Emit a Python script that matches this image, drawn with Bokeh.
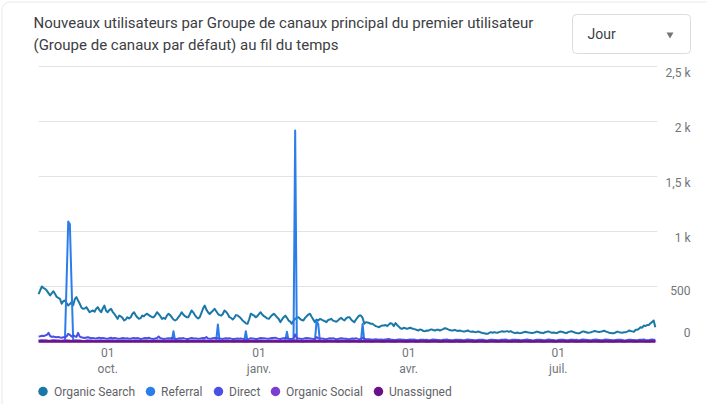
from datetime import datetime, timedelta
from bokeh.plotting import figure
from bokeh.models import ColumnDataSource, Range1d
from bokeh.core.properties import value
from bokeh.embed import file_html
from bokeh.resources import INLINE

# ---------------- data ----------------
start_day = datetime(2023, 8, 20)

organic_search = [
    430, 468, 500, 486, 479, 462, 440,
    418, 440, 457, 432, 405, 396, 388,
    343, 366, 373, 350, 327, 340, 357,
    330, 385, 403, 372, 343, 310, 297,
    300, 312, 290, 266, 275, 282, 270,
    298, 312, 285, 266, 300, 327, 280,
    266, 285, 297, 270, 252, 230, 206,
    236, 228, 215, 191, 200, 221, 210,
    221, 250, 266, 240, 220, 206, 212,
    236, 228, 245, 252, 240, 230, 221,
    221, 240, 266, 250, 230, 206, 215,
    206, 235, 252, 240, 220, 200, 191,
    200, 221, 240, 266, 245, 230, 221,
    221, 250, 282, 265, 240, 221, 210,
    221, 260, 300, 327, 290, 266, 250,
    266, 280, 297, 275, 252, 240, 235,
    250, 282, 270, 250, 221, 215, 200,
    215, 240, 236, 225, 210, 191, 180,
    165, 161, 200, 252, 245, 236, 220,
    230, 250, 266, 245, 230, 221, 210,
    206, 225, 240, 252, 238, 220, 205,
    176, 200, 221, 235, 215, 190, 180,
    161, 190, 206, 215, 221, 205, 195,
    191, 215, 230, 245, 252, 225, 200,
    176, 200, 191, 205, 200, 191, 185,
    176, 195, 200, 206, 190, 185, 180,
    191, 205, 215, 200, 191, 210, 221,
    221, 200, 185, 176, 200, 220, 236,
    236, 215, 161, 176, 172, 168, 161,
    161, 150, 140, 135, 130, 140, 145,
    145, 150, 140, 155, 167, 160, 140,
    167, 150, 135, 120, 115, 125, 120,
    115, 120, 125, 118, 115, 110, 105,
    100, 110, 105, 95, 94, 100, 98,
    106, 110, 104, 100, 106, 108, 100,
    106, 112, 121, 118, 110, 104, 100,
    100, 106, 100, 96, 100, 95, 92,
    91, 95, 100, 92, 88, 91, 86,
    85, 90, 88, 82, 78, 75, 70,
    70, 78, 85, 80, 85, 82, 80,
    85, 90, 94, 88, 92, 94, 88,
    94, 85, 80, 76, 82, 78, 76,
    80, 85, 88, 85, 82, 80, 78,
    79, 84, 90, 86, 80, 79, 76,
    85, 88, 92, 85, 80, 82, 80,
    76, 84, 90, 88, 84, 80, 76,
    85, 90, 94, 88, 82, 78, 76,
    76, 85, 92, 88, 84, 80, 82,
    85, 90, 96, 92, 88, 86, 90,
    94, 98, 90, 85, 80, 78, 76,
    76, 84, 90, 85, 82, 80, 85,
    85, 90, 100, 95, 92, 88, 106,
    106, 115, 130, 125, 145, 140, 150,
    150, 165, 176, 191, 130,
]

referral = [
    6, 8, 9, 7, 8, 6, 5,
    5, 7, 8, 9, 7, 6, 4,
    5, 6, 8, 545, 1090, 1065, 530,
    10, 8, 9, 7, 6, 5, 4,
    4, 6, 7, 8, 6, 5, 4,
    3, 6, 7, 6, 8, 6, 4,
    4, 7, 8, 6, 7, 5, 3,
    4, 6, 7, 8, 6, 5, 4,
    3, 6, 8, 7, 6, 5, 4,
    4, 7, 6, 8, 7, 5, 3,
    4, 6, 8, 7, 6, 6, 4,
    3, 6, 7, 8, 6, 94, 5,
    4, 7, 8, 6, 7, 5, 4,
    3, 6, 7, 8, 6, 5, 4,
    4, 7, 8, 7, 6, 5, 3,
    4, 6, 7, 8, 155, 6, 4,
    3, 6, 8, 7, 6, 5, 4,
    4, 6, 7, 6, 5, 4, 3,
    94, 3, 5, 7, 6, 5, 4,
    3, 6, 8, 7, 6, 5, 4,
    4, 7, 8, 6, 7, 5, 3,
    4, 6, 7, 8, 88, 5, 4,
    3, 12, 1918, 15, 6, 5, 4,
    3, 6, 8, 7, 6, 5, 4,
    4, 185, 160, 8, 6, 5, 3,
    4, 6, 7, 8, 6, 5, 4,
    3, 7, 8, 6, 7, 5, 4,
    4, 6, 7, 8, 6, 5, 3,
    4, 160, 7, 6, 5, 4, 3,
    3, 5, 6, 5, 4, 4, 3,
    3, 5, 6, 5, 5, 4, 2,
    3, 4, 6, 5, 4, 4, 2,
    2, 4, 5, 5, 4, 3, 2,
    2, 4, 5, 4, 5, 3, 2,
    2, 4, 5, 5, 4, 3, 2,
    2, 3, 5, 4, 4, 3, 2,
    2, 4, 5, 4, 3, 3, 2,
    2, 4, 5, 5, 4, 3, 2,
    2, 3, 4, 5, 4, 3, 2,
    2, 4, 5, 4, 4, 3, 2,
    2, 4, 5, 5, 4, 3, 2,
    2, 3, 5, 4, 4, 3, 2,
    2, 4, 5, 4, 3, 3, 2,
    2, 4, 5, 5, 4, 3, 2,
    2, 3, 4, 5, 4, 3, 2,
    2, 4, 5, 4, 4, 3, 2,
    2, 4, 5, 5, 4, 3, 2,
    2, 3, 5, 4, 4, 3, 2,
    2, 4, 5, 4, 3, 3, 2,
    2, 4, 5, 5, 4, 3, 2,
    2, 3, 4, 5, 4, 3, 2,
    2, 4, 5, 4, 4, 3, 2,
    2, 4, 5, 5, 4, 3, 2,
    2, 3, 5, 4, 3,
]

direct = [
    45, 48, 52, 50, 55, 60, 79,
    50, 42, 45, 40, 38, 42, 36,
    35, 38, 40, 45, 70, 60, 45,
    55, 48, 42, 79, 45, 38, 35,
    32, 36, 38, 34, 30, 32, 28,
    28, 32, 35, 30, 33, 30, 26,
    25, 30, 34, 28, 32, 30, 25,
    24, 28, 32, 30, 27, 29, 24,
    25, 30, 33, 28, 31, 27, 23,
    24, 29, 32, 30, 34, 28, 24,
    23, 28, 31, 45, 30, 27, 22,
    24, 28, 30, 27, 32, 28, 23,
    22, 27, 30, 28, 31, 26, 22,
    23, 28, 33, 30, 28, 27, 24,
    24, 29, 32, 30, 40, 28, 25,
    25, 30, 33, 31, 29, 27, 24,
    23, 28, 30, 27, 29, 26, 22,
    22, 26, 28, 25, 27, 24, 20,
    18, 20, 24, 30, 28, 26, 22,
    23, 28, 32, 30, 29, 27, 24,
    24, 30, 33, 31, 35, 28, 25,
    23, 27, 30, 32, 29, 26, 22,
    22, 28, 64, 30, 28, 26, 23,
    24, 29, 32, 30, 28, 26, 23,
    22, 40, 30, 28, 27, 25, 22,
    21, 26, 29, 27, 30, 25, 21,
    22, 27, 30, 28, 26, 25, 21,
    21, 25, 28, 26, 29, 24, 21,
    22, 35, 24, 22, 21, 20, 18,
    16, 18, 20, 19, 17, 18, 15,
    15, 18, 20, 22, 19, 17, 14,
    14, 17, 19, 18, 16, 17, 13,
    13, 16, 18, 17, 19, 15, 12,
    12, 15, 17, 16, 14, 15, 12,
    12, 16, 18, 17, 15, 14, 11,
    12, 15, 17, 19, 16, 14, 12,
    11, 15, 17, 16, 14, 15, 11,
    12, 16, 18, 17, 15, 14, 12,
    11, 14, 16, 15, 17, 13, 10,
    10, 14, 16, 15, 13, 14, 11,
    11, 15, 17, 16, 18, 14, 12,
    12, 15, 17, 16, 14, 15, 11,
    11, 14, 16, 18, 15, 13, 11,
    10, 14, 16, 15, 17, 14, 11,
    11, 15, 18, 16, 14, 13, 10,
    10, 14, 16, 17, 15, 13, 11,
    11, 15, 17, 16, 14, 15, 12,
    12, 16, 18, 17, 15, 14, 11,
    11, 15, 17, 19, 16, 14, 12,
    12, 16, 18, 17, 15, 14, 11,
    11, 14, 16, 15, 17, 13, 10,
    10, 14, 16, 15, 14, 13, 11,
    11, 15, 17, 16, 18, 14, 12,
    12, 16, 18, 17, 14,
]

organic_social = [
    8, 10, 12, 9, 11, 10, 7,
    7, 9, 11, 10, 8, 9, 6,
    6, 9, 10, 12, 9, 8, 6,
    7, 9, 10, 8, 9, 7, 5,
    5, 8, 9, 7, 8, 6, 5,
    5, 7, 9, 8, 7, 6, 4,
    5, 7, 8, 9, 7, 6, 4,
    4, 7, 8, 7, 6, 7, 4,
    5, 6, 8, 7, 8, 6, 4,
    4, 7, 9, 7, 6, 6, 4,
    4, 6, 8, 7, 7, 5, 4,
    5, 7, 8, 6, 7, 6, 4,
    4, 6, 7, 8, 6, 5, 3,
    4, 7, 8, 7, 6, 6, 4,
    5, 7, 9, 8, 7, 6, 4,
    4, 6, 8, 7, 6, 5, 4,
    4, 7, 8, 6, 7, 5, 3,
    3, 5, 6, 5, 4, 4, 3,
    3, 4, 5, 6, 5, 4, 3,
    4, 6, 8, 7, 6, 5, 4,
    4, 7, 8, 7, 8, 6, 4,
    4, 6, 7, 8, 6, 5, 4,
    4, 6, 12, 7, 6, 5, 3,
    4, 6, 8, 7, 6, 5, 4,
    3, 8, 7, 6, 7, 5, 3,
    4, 6, 7, 6, 5, 5, 3,
    3, 5, 7, 6, 5, 6, 3,
    3, 5, 6, 7, 5, 4, 3,
    3, 6, 5, 4, 5, 4, 3,
    3, 4, 5, 4, 4, 3, 2,
    2, 4, 5, 4, 3, 3, 2,
    3, 4, 5, 4, 4, 3, 2,
    2, 3, 4, 5, 4, 3, 2,
    2, 4, 5, 4, 3, 3, 2,
    2, 4, 4, 5, 4, 3, 2,
    3, 4, 5, 4, 4, 3, 2,
    2, 3, 5, 4, 3, 3, 2,
    2, 4, 5, 4, 4, 3, 2,
    2, 3, 4, 4, 3, 3, 2,
    2, 4, 5, 4, 4, 3, 2,
    3, 4, 5, 5, 4, 3, 2,
    2, 3, 4, 4, 3, 3, 2,
    2, 4, 5, 4, 4, 3, 2,
    2, 3, 5, 4, 3, 3, 2,
    2, 4, 4, 5, 4, 3, 2,
    3, 4, 5, 4, 4, 3, 2,
    2, 3, 4, 4, 3, 3, 2,
    2, 4, 5, 4, 4, 3, 2,
    2, 4, 5, 5, 4, 3, 2,
    2, 3, 4, 4, 3, 3, 2,
    2, 4, 5, 4, 4, 3, 2,
    3, 4, 5, 4, 4, 3, 2,
    2, 4, 5, 5, 4, 3, 2,
    3, 4, 5, 4, 3,
]

unassigned = [
    1, 1, 2, 1, 1, 1, 0,
    0, 1, 1, 2, 1, 1, 0,
    0, 1, 1, 1, 2, 1, 0,
    1, 1, 1, 1, 1, 0, 0,
    0, 1, 1, 1, 1, 1, 0,
    0, 1, 1, 1, 1, 0, 0,
    0, 1, 1, 1, 1, 1, 0,
    0, 1, 1, 1, 1, 0, 0,
    0, 1, 1, 1, 1, 1, 0,
    0, 1, 1, 1, 1, 0, 0,
    0, 1, 1, 1, 1, 1, 0,
    0, 1, 1, 1, 1, 0, 0,
    0, 1, 1, 1, 1, 1, 0,
    0, 1, 1, 1, 1, 0, 0,
    0, 1, 1, 1, 1, 1, 0,
    0, 1, 1, 1, 1, 0, 0,
    0, 1, 1, 1, 1, 1, 0,
    0, 0, 1, 1, 0, 0, 0,
    0, 0, 1, 1, 1, 0, 0,
    0, 1, 1, 1, 1, 1, 0,
    0, 1, 1, 1, 1, 0, 0,
    0, 1, 1, 1, 1, 1, 0,
    0, 1, 1, 1, 1, 0, 0,
    0, 1, 1, 1, 1, 1, 0,
    0, 1, 1, 1, 1, 0, 0,
    0, 1, 1, 1, 1, 1, 0,
    0, 1, 1, 1, 1, 0, 0,
    0, 1, 1, 1, 1, 1, 0,
    0, 1, 1, 1, 1, 0, 0,
    0, 1, 1, 1, 1, 1, 0,
    0, 1, 1, 1, 1, 0, 0,
    0, 1, 1, 1, 1, 1, 0,
    0, 1, 1, 1, 1, 0, 0,
    0, 1, 1, 1, 1, 1, 0,
    0, 1, 1, 1, 1, 0, 0,
    0, 1, 1, 1, 1, 1, 0,
    0, 1, 1, 1, 1, 0, 0,
    0, 1, 1, 1, 1, 1, 0,
    0, 1, 1, 1, 1, 0, 0,
    0, 1, 1, 1, 1, 1, 0,
    0, 1, 1, 1, 1, 0, 0,
    0, 1, 1, 1, 1, 1, 0,
    0, 1, 1, 1, 1, 0, 0,
    0, 1, 1, 1, 1, 1, 0,
    0, 1, 1, 1, 1, 0, 0,
    0, 1, 1, 1, 1, 1, 0,
    0, 1, 1, 1, 1, 0, 0,
    0, 1, 1, 1, 1, 1, 0,
    0, 1, 1, 1, 1, 0, 0,
    0, 1, 1, 1, 1, 1, 0,
    0, 1, 1, 1, 1, 0, 0,
    0, 1, 1, 1, 1, 1, 0,
    0, 1, 1, 1, 1, 0, 0,
    0, 1, 1, 1, 1,
]

series_names = ["Organic Search", "Referral", "Direct", "Organic Social", "Unassigned"]
series_colors = ["#1a78a8", "#2b7de9", "#4a50e2", "#7b3fd0", "#6a1189"]

tick_dates = [datetime(2023, 10, 1), datetime(2024, 1, 1), datetime(2024, 4, 1), datetime(2024, 7, 1)]
tick_labels = ["01\noct.", "01\njanv.", "01\navr.", "01\njuil."]

y_ticks = [500, 1000, 1500, 2000, 2500]
y_tick_labels = ["500", "1 k", "1,5 k", "2 k", "2,5 k"]
zero_tick = [0]
zero_label = ["0"]

title_lines = ["Nouveaux utilisateurs par Groupe de canaux principal du premier utilisateur",
               "(Groupe de canaux par défaut) au fil du temps"]
period_label = "Jour"

# ---------------- layout (page pixels) ----------------
W, H = 707, 404
PAGE_L, PAGE_T = 0, 0
PAGE_R, PAGE_B = PAGE_L + W, PAGE_T + H
ANCHOR = datetime(2023, 10, 1)
ANCHOR_X = 107.2
PX_PER_DAY = 1.6445
ZERO_Y = 341.0
PX_PER_UNIT = 0.11

x_range = Range1d(ANCHOR - timedelta(days=(ANCHOR_X - PAGE_L) / PX_PER_DAY),
                  ANCHOR + timedelta(days=(PAGE_R - ANCHOR_X) / PX_PER_DAY))
y_range = Range1d(-(PAGE_B - ZERO_Y) / PX_PER_UNIT, (ZERO_Y - PAGE_T) / PX_PER_UNIT)

p = figure(width=W, height=H, x_range=x_range, y_range=y_range,
           x_axis_location=None, y_axis_location=None,
           toolbar_location=None, output_backend="svg",
           min_border_left=0, min_border_right=0, min_border_top=0, min_border_bottom=0)
p.outline_line_color = None
p.background_fill_color = "white"
p.border_fill_color = "white"
p.xgrid.visible = False
p.ygrid.visible = False
p.extra_x_ranges = {"px": Range1d(PAGE_L, PAGE_R)}
p.extra_y_ranges = {"px": Range1d(PAGE_B, PAGE_T)}

FONT = value("Roboto")
n = len(organic_search)
dates = [start_day + timedelta(days=i) for i in range(n)]
grid_end = dates[-1] + timedelta(days=1.2)

# card outline
p.quad(left=[1.5], right=[PAGE_R + 20], top=[1.5], bottom=[PAGE_B + 20],
       x_range_name="px", y_range_name="px", fill_color=None,
       line_color="#e8e8e8", line_width=1, border_radius=8)

# grid lines
all_ticks = zero_tick + y_ticks
p.segment(x0=[dates[0]] * len(all_ticks), x1=[grid_end] * len(all_ticks),
          y0=all_ticks, y1=all_ticks, line_color="#e3e3e3", line_width=1)

# series
src = ColumnDataSource(dict(date=dates, s0=organic_search, s1=referral, s2=direct,
                            s3=organic_social, s4=unassigned))
for i, (name, col) in enumerate(zip(series_names, series_colors)):
    p.line("date", f"s{i}", source=src, line_color=col,
           line_width=2.5 if i == 4 else 2, line_join="round")

# y labels (right side)
p.text(x=[690] * len(y_ticks), y=y_ticks, text=y_tick_labels, x_range_name="px",
       text_align="right", text_baseline="top", text_font=FONT, y_offset=-1,
       text_font_size=value("12px"), text_color="#70757a")
p.text(x=[690], y=zero_tick, text=zero_label, x_range_name="px",
       text_align="right", text_baseline="bottom", text_font=FONT, y_offset=-5,
       text_font_size=value("12px"), text_color="#70757a")

# x labels
p.text(x=tick_dates, y=[345] * len(tick_dates), text=tick_labels, y_range_name="px",
       text_align="center", text_baseline="top", text_font=FONT,
       text_font_size=value("12px"), text_color="#70757a", text_line_height=1.2)

# title
p.text(x=[33, 33], y=[22, 44], text=title_lines, x_range_name="px", y_range_name="px",
       text_align="left", text_baseline="middle", text_font=FONT,
       text_font_size=value("15px"), text_color="#3c4043")

# period dropdown
p.quad(left=[572], right=[690], top=[14], bottom=[53], x_range_name="px", y_range_name="px",
       fill_color="white", line_color="#dadce0", line_width=1, border_radius=4)
p.text(x=[587], y=[33.5], text=[period_label], x_range_name="px", y_range_name="px",
       text_align="left", text_baseline="middle", text_font=FONT,
       text_font_size=value("14px"), text_color="#3c4043")
p.scatter(x=[669.5], y=[34], marker="inverted_triangle", size=7, x_range_name="px",
          y_range_name="px", fill_color="#757575", line_color=None)

# legend
legend_dot_x = [42.5, 150, 218, 275, 378]
legend_text_x = [53.5, 160.5, 228.5, 285.5, 388.5]
legend_y = 391
p.scatter(x=legend_dot_x, y=[legend_y] * 5, size=9.5, marker="circle",
          fill_color=series_colors, line_color=None, x_range_name="px", y_range_name="px")
p.text(x=legend_text_x, y=[legend_y] * 5, text=series_names, x_range_name="px",
       y_range_name="px", text_align="left", text_baseline="middle", text_font=FONT,
       text_font_size=value("12px"), text_color="#5f6368")

open("out.html", "w").write(file_html(p, INLINE))
